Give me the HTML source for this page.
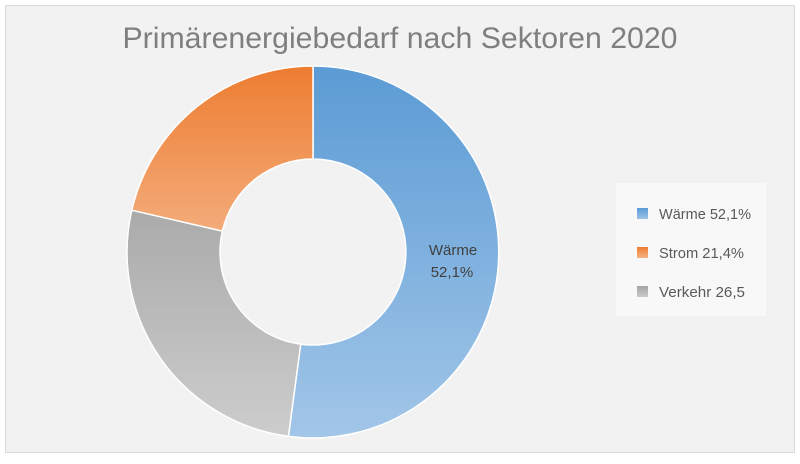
<!DOCTYPE html>
<html><head><meta charset="utf-8"><style>
html,body{margin:0;padding:0;background:#fff;}
</style></head><body>
<svg width="800" height="459" xmlns="http://www.w3.org/2000/svg" font-family="'Liberation Sans', sans-serif">
<defs>
<linearGradient id="gb" x1="0" y1="66" x2="0" y2="438" gradientUnits="userSpaceOnUse"><stop offset="0" stop-color="#5b9bd5"/><stop offset="1" stop-color="#a2c6e8"/></linearGradient>
<linearGradient id="go" x1="0" y1="66" x2="0" y2="438" gradientUnits="userSpaceOnUse"><stop offset="0" stop-color="#ed7d31"/><stop offset="0.5" stop-color="#f4b183"/><stop offset="1" stop-color="#f8cbad"/></linearGradient>
<linearGradient id="gg" x1="0" y1="66" x2="0" y2="438" gradientUnits="userSpaceOnUse"><stop offset="0" stop-color="#999"/><stop offset="0.4" stop-color="#ababab"/><stop offset="1" stop-color="#cdcdcd"/></linearGradient>
<linearGradient id="lb" x1="0" y1="0" x2="0" y2="1"><stop offset="0" stop-color="#5b9bd5"/><stop offset="1" stop-color="#9dc3e6"/></linearGradient>
<linearGradient id="lo" x1="0" y1="0" x2="0" y2="1"><stop offset="0" stop-color="#ed7d31"/><stop offset="1" stop-color="#f4b183"/></linearGradient>
<linearGradient id="lg" x1="0" y1="0" x2="0" y2="1"><stop offset="0" stop-color="#a5a5a5"/><stop offset="1" stop-color="#c9c9c9"/></linearGradient>
</defs>
<rect x="5.5" y="5.5" width="789" height="447" fill="#f2f2f2" stroke="#d9d9d9"/>
<text x="400" y="48" text-anchor="middle" font-size="30" fill="#7f7f7f" textLength="555" lengthAdjust="spacingAndGlyphs">Primärenergiebedarf nach Sektoren 2020</text>
<g stroke="#fff" stroke-width="1.5">
<path d="M313,66 A186,186 0 1 1 288.4,436.4 L300.7,344.2 A93,93 0 1 0 313,159 Z" fill="url(#gb)"/>
<path d="M288.4,436.4 A186,186 0 0 1 131.8,210.2 L222.4,231.1 A93,93 0 0 0 300.7,344.2 Z" fill="url(#gg)"/>
<path d="M131.8,210.2 A186,186 0 0 1 313,66 L313,159 A93,93 0 0 0 222.4,231.1 Z" fill="url(#go)"/>
</g>
<text x="453" y="255" text-anchor="middle" font-size="15" fill="#404040">Wärme</text>
<text x="452" y="277" text-anchor="middle" font-size="15" fill="#404040">52,1%</text>
<rect x="616" y="183" width="150" height="133" fill="#f8f8f8"/>
<rect x="637" y="208" width="11" height="11" fill="url(#lb)"/>
<rect x="637" y="247" width="11" height="11" fill="url(#lo)"/>
<rect x="637" y="286" width="11" height="11" fill="url(#lg)"/>
<g font-size="15" fill="#595959">
<text x="659" y="219" textLength="92" lengthAdjust="spacingAndGlyphs">Wärme 52,1%</text>
<text x="659" y="258" textLength="85" lengthAdjust="spacingAndGlyphs">Strom 21,4%</text>
<text x="659" y="297" textLength="86" lengthAdjust="spacingAndGlyphs">Verkehr 26,5</text>
</g>
</svg>
</body></html>
